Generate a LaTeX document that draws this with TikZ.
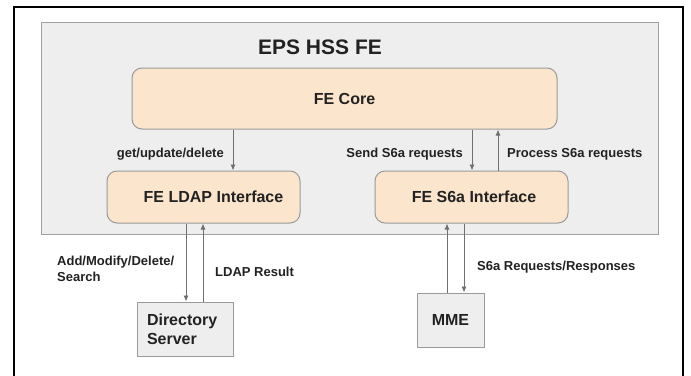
\documentclass[tikz,border=0pt]{standalone}
\usepackage{fontspec}
\setmainfont{Liberation Sans}
\usetikzlibrary{arrows.meta}
\definecolor{panelfill}{HTML}{EEEEEE}
\definecolor{panelline}{HTML}{A0A0A0}
\definecolor{peach}{HTML}{FCE5CD}
\definecolor{boxline}{HTML}{9A9A9A}
\definecolor{arrcol}{HTML}{707070}
\definecolor{txt}{HTML}{222222}
\begin{document}
\begin{tikzpicture}[x=1pt,y=-1pt,
  panel/.style={draw=panelline,fill=panelfill,line width=1pt,minimum width=617pt,minimum height=212pt,inner sep=0pt},
  febox/.style={draw=boxline,fill=peach,line width=1pt,rounded corners=10pt,inner sep=0pt,text=txt,
    font=\fontsize{16}{19}\selectfont\bfseries},
  extbox/.style={draw=boxline,fill=panelfill,line width=1pt,inner sep=0pt,text=txt,
    font=\fontsize{16}{19}\selectfont\bfseries},
  lbl/.style={inner sep=0pt,text=txt,font=\fontsize{13}{16}\selectfont\bfseries},
  arr/.style={draw=arrcol,line width=0.9pt,-{Latex[length=6pt,width=5pt]}}]
\useasboundingbox (0,0) rectangle (691,375);
\fill[white] (0,0) rectangle (691,375);
\draw[line width=2pt] (14,380) -- (14,7) -- (683,7) -- (683,380);
\node[panel] (panel) at (349.5,128) {};
\node[inner sep=0pt,text=txt,font=\fontsize{21}{24}\selectfont\bfseries] (title) at (320,47) {EPS HSS FE};
\node[febox,minimum width=425pt,minimum height=61pt] (core) at (344.5,98.5) {FE Core};
\node[febox,minimum width=193pt,minimum height=52pt] (ldap) at (203.5,197) {\hspace*{20pt}FE LDAP Interface};
\node[febox,minimum width=193pt,minimum height=52pt] (s6a) at (471.5,197) {\hspace*{5pt}FE S6a Interface};
\node[extbox,minimum width=96pt,minimum height=54pt,text width=76pt,align=left] (dir) at (185,329) {Directory\\Server};
\node[extbox,minimum width=67pt,minimum height=54pt] (mme) at (450.5,320) {MME};
\coordinate (xa) at (233,0);
\coordinate (xb) at (472,0);
\coordinate (xc) at (498,0);
\coordinate (xd) at (186,0);
\coordinate (xe) at (203,0);
\coordinate (xf) at (447,0);
\coordinate (xg) at (464,0);
\draw[arr] (core.south -| xa) -- (ldap.north -| xa);
\draw[arr] (core.south -| xb) -- (s6a.north -| xb);
\draw[arr] (s6a.north -| xc) -- (core.south -| xc);
\draw[arr] (ldap.south -| xd) -- (dir.north -| xd);
\draw[arr] (dir.north -| xe) -- (ldap.south -| xe);
\draw[arr] (mme.north -| xf) -- (s6a.south -| xf);
\draw[arr] (s6a.south -| xg) -- (mme.north -| xg);
\node[lbl,anchor=east] (l1) at (224,154) {get/update/delete};
\node[lbl,anchor=east] (l2) at (463,154) {Send S6a requests};
\node[lbl,anchor=west] (l3) at (507,154) {Process S6a requests};
\node[lbl,anchor=west,align=left] (l4) at (57,269) {Add/Modify/Delete/\\Search};
\node[lbl,anchor=west] (l5) at (215,272) {LDAP Result};
\node[lbl,anchor=west] (l6) at (477,267) {S6a Requests/Responses};
\end{tikzpicture}
\end{document}
